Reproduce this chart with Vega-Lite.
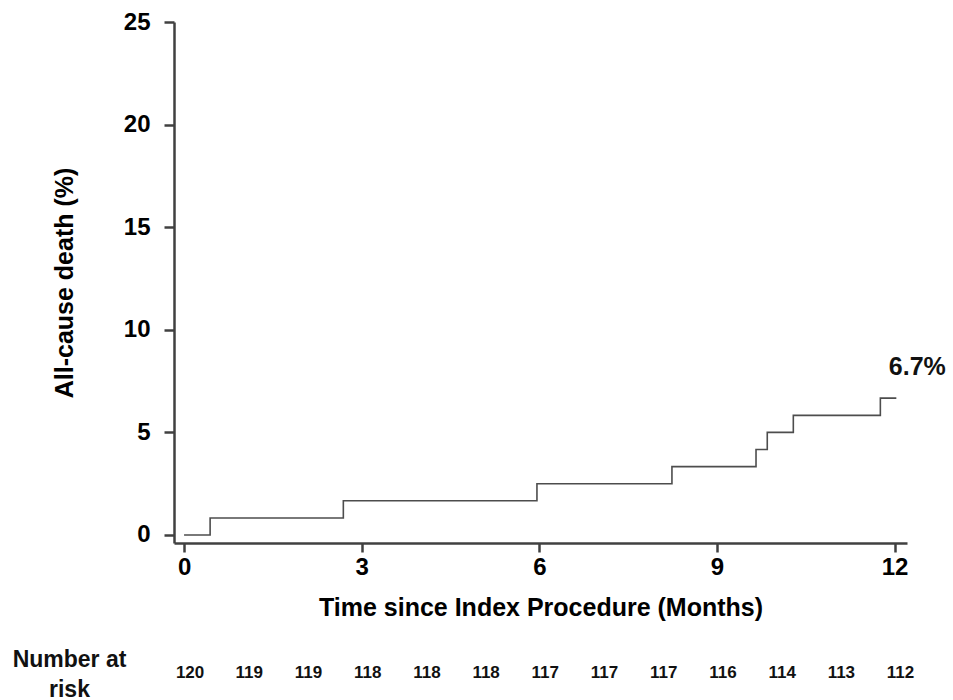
{
  "$schema": "https://vega.github.io/schema/vega-lite/v6.json",
  "background": "white",
  "padding": {"left": 12, "top": 10, "right": 5, "bottom": 0},
  "bounds": "flush",
  "spacing": 105,
  "config": {
    "view": {"stroke": null},
    "font": "Liberation Sans",
    "axis": {"grid": false}
  },
  "resolve": {"scale": {"x": "shared"}},
  "vconcat": [
    {
      "width": 733,
      "height": 521,
      "layer": [
        {
          "data": {
            "values": [
              {"month": 0, "pct": 0},
              {"month": 0.44, "pct": 0.83},
              {"month": 2.69, "pct": 1.67},
              {"month": 5.96, "pct": 2.5},
              {"month": 8.24, "pct": 3.33},
              {"month": 9.66, "pct": 4.17},
              {"month": 9.85, "pct": 5.0},
              {"month": 10.29, "pct": 5.83},
              {"month": 11.76, "pct": 6.67},
              {"month": 12.03, "pct": 6.67}
            ]
          },
          "mark": {"type": "line", "interpolate": "step-after", "stroke": "#4d4d4d", "strokeWidth": 1.6},
          "encoding": {
            "x": {
              "field": "month",
              "type": "quantitative",
              "scale": {"domain": [-0.17, 12.21], "nice": false, "zero": false},
              "axis": {
                "values": [0, 3, 6, 9, 12],
                "format": "d",
                "title": "Time since Index Procedure (Months)",
                "domainColor": "#404040",
                "domainWidth": 2.5,
                "tickColor": "#404040",
                "tickWidth": 2.5,
                "tickSize": 9,
                "labelFontSize": 24,
                "labelFontWeight": "bold",
                "labelColor": "#000000",
                "labelPadding": 3,
                "labelFlush": false,
                "labelOverlap": false,
                "titleFontSize": 25,
                "titleFontWeight": "bold",
                "titleColor": "#000000",
                "titlePadding": 16
              }
            },
            "y": {
              "field": "pct",
              "type": "quantitative",
              "scale": {"domain": [-0.39, 25], "nice": false, "zero": false},
              "axis": {
                "values": [0, 5, 10, 15, 20, 25],
                "format": "d",
                "title": "All-cause death (%)",
                "domainColor": "#404040",
                "domainWidth": 2.5,
                "tickColor": "#404040",
                "tickWidth": 2.5,
                "tickSize": 10,
                "labelFontSize": 24,
                "labelFontWeight": "bold",
                "labelColor": "#000000",
                "labelPadding": 14,
                "labelOverlap": false,
                "titleFontSize": 25,
                "titleFontWeight": "bold",
                "titleColor": "#000000",
                "titlePadding": 46
              }
            }
          }
        },
        {
          "data": {"values": [{"month": 12.03, "pct": 6.67, "label": "6.7%"}]},
          "mark": {"type": "text", "fontSize": 25, "fontWeight": "bold", "dx": 21, "dy": -31, "align": "center", "baseline": "middle", "color": "#111111"},
          "encoding": {
            "x": {"field": "month", "type": "quantitative"},
            "y": {"field": "pct", "type": "quantitative"},
            "text": {"field": "label"}
          }
        }
      ]
    },
    {
      "width": 733,
      "height": 50,
      "data": {
        "values": [
          {"month": 0, "n": 120, "row": "Number at|risk"},
          {"month": 1, "n": 119, "row": "Number at|risk"},
          {"month": 2, "n": 119, "row": "Number at|risk"},
          {"month": 3, "n": 118, "row": "Number at|risk"},
          {"month": 4, "n": 118, "row": "Number at|risk"},
          {"month": 5, "n": 118, "row": "Number at|risk"},
          {"month": 6, "n": 117, "row": "Number at|risk"},
          {"month": 7, "n": 117, "row": "Number at|risk"},
          {"month": 8, "n": 117, "row": "Number at|risk"},
          {"month": 9, "n": 116, "row": "Number at|risk"},
          {"month": 10, "n": 114, "row": "Number at|risk"},
          {"month": 11, "n": 113, "row": "Number at|risk"},
          {"month": 12, "n": 112, "row": "Number at|risk"}
        ]
      },
      "mark": {"type": "text", "fontSize": 17, "fontWeight": "bold", "dx": 6, "baseline": "middle", "align": "center", "color": "#111111"},
      "encoding": {
        "x": {
          "field": "month",
          "type": "quantitative",
          "scale": {"domain": [-0.17, 12.21], "nice": false, "zero": false},
          "axis": null
        },
        "y": {
          "field": "row",
          "type": "nominal",
          "axis": {
            "title": null,
            "domain": false,
            "ticks": false,
            "tickSize": 0,
            "labelExpr": "split(datum.label, '|')",
            "labelFontSize": 23,
            "labelFontWeight": "bold",
            "labelColor": "#111111",
            "labelAlign": "center",
            "labelPadding": 105,
            "labelLineHeight": 30,
            "labelOffset": -14
          }
        },
        "text": {"field": "n"}
      }
    }
  ]
}
